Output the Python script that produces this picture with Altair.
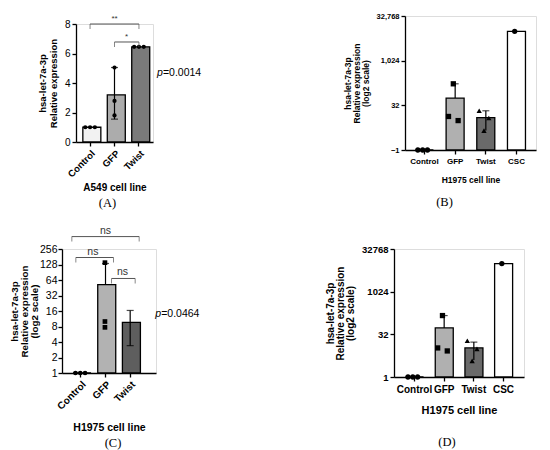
import altair as alt
import pandas as pd

FONT = "Liberation Sans"
SERIF = "Liberation Serif"
GRAY = "#555555"
SLOTS = ["L", "C", "R"]

# ---------------- Panel A (A549, linear) ----------------
A_CATS = ["Control", "GFP", "Twist"]
A_BARS = [1.0, 3.2, 6.45]
A_BASE = 0
A_FILL = ["#f2f2f2", "#acacac", "#7a7a7a"]
A_SHAPES = ["circle", "circle", "circle"]
A_PT_CAT = ["Control", "Control", "Control", "GFP", "GFP", "GFP", "Twist", "Twist", "Twist"]
A_PT_VAL = [1.0, 1.0, 1.0, 5.05, 2.78, 1.8, 6.45, 6.45, 6.45]
A_PT_SLOT = ["L", "C", "R", "C", "C", "C", "L", "C", "R"]
A_ERR_CAT = ["GFP"]
A_ERR_LO = [1.55]
A_ERR_HI = [5.05]
A_LOWCAP = ["GFP"]
A_TICKS = [0, 2, 4, 6, 8]
A_BR_FROM = ["Control", "GFP"]
A_BR_TO = ["Twist", "Twist"]
A_BR_LEVEL = [8.0, 6.78]
A_BR_LABEL = ["**", "*"]
A_P_LEVEL = 4.68
A_P_TEXT = "=0.0014"

# ---------------- Panel B (H1975, log2) ----------------
B_CATS = ["Control", "GFP", "Twist", "CSC"]
B_BARS = [1.0, 56.0, 12.4, 10000.0]
B_BASE = 1
B_FILL = ["#ffffff", "#b0b0b0", "#6a6a6a", "#ffffff"]
B_SHAPES = ["circle", "square", "triangle-up", "circle"]
B_PT_CAT = ["Control", "Control", "Control", "GFP", "GFP", "GFP", "Twist", "Twist", "Twist", "CSC"]
B_PT_VAL = [1.0, 1.0, 1.0, 170.0, 13.5, 9.8, 21.0, 12.0, 4.5, 10000.0]
B_PT_SLOT = ["L", "C", "R", "C", "L", "R", "L", "R", "C", "C"]
B_ERR_CAT = ["GFP", "Twist"]
B_ERR_LO = [56.0, 4.5]
B_ERR_HI = [170.0, 21.0]
B_TICKS = [1, 32, 1024, 32768]

# ---------------- Panel C (H1975, log2) ----------------
C_CATS = ["Control", "GFP", "Twist"]
C_BARS = [1.0, 52.0, 9.6]
C_BASE = 1
C_FILL = ["#ffffff", "#b2b2b2", "#5e5e5e"]
C_SHAPES = ["circle", "square", "triangle-up"]
C_PT_CAT = ["Control", "Control", "Control", "GFP", "GFP", "GFP"]
C_PT_VAL = [1.0, 1.0, 1.0, 139.0, 10.0, 7.7]
C_PT_SLOT = ["L", "C", "R", "C", "C", "C"]
C_ERR_CAT = ["GFP", "Twist"]
C_ERR_LO = [52.0, 3.4]
C_ERR_HI = [134.0, 16.4]
C_LOWCAP = ["Twist"]
C_TICKS = [1, 2, 4, 8, 16, 32, 64, 128, 256]
C_BR_FROM = ["Control", "Control", "GFP"]
C_BR_TO = ["Twist", "GFP", "Twist"]
C_BR_LEVEL = [446.0, 175.0, 68.5]
C_BR_LABEL = ["ns", "ns", "ns"]
C_P_LEVEL = 13.7
C_P_TEXT = "=0.0464"

# ---------------- Panel D (H1975, log2) ----------------
D_CATS = ["Control", "GFP", "Twist", "CSC"]
D_BARS = [1.0, 54.0, 10.6, 10000.0]
D_BASE = 1
D_FILL = ["#ffffff", "#b0b0b0", "#6a6a6a", "#ffffff"]
D_SHAPES = ["circle", "square", "triangle-up", "circle"]
D_PT_CAT = ["Control", "Control", "Control", "GFP", "GFP", "GFP", "Twist", "Twist", "Twist", "CSC"]
D_PT_VAL = [1.0, 1.0, 1.0, 147.0, 10.6, 8.3, 19.0, 9.8, 3.7, 10000.0]
D_PT_SLOT = ["L", "C", "R", "C", "L", "R", "L", "R", "C", "C"]
D_ERR_CAT = ["GFP", "Twist"]
D_ERR_LO = [54.0, 4.0]
D_ERR_HI = [147.0, 17.0]
D_TICKS = [1, 32, 1024, 32768]


def axis_common(**kw):
    base = dict(labelFont=FONT, titleFont=FONT, labelColor="black", titleColor="black",
                domainColor="black", domainWidth=1.3, tickColor="black", tickWidth=1.3,
                tickSize=4, grid=False, titleFontWeight="bold")
    base.update(kw)
    return alt.Axis(**base)


def panel(cats, bars, base, fills, shapes, pt_cat, pt_val, pt_slot, err_cat, err_lo, err_hi,
          lowcap, xscale, yscale, xaxis, yaxis, w, h, psize, title, title_dx, title_offset,
          brackets=None, ptext=None):
    def X(f="cat"):
        return alt.X(f"{f}:N", scale=xscale, axis=xaxis)

    def Y(f="val"):
        return alt.Y(f"{f}:Q", scale=yscale, axis=yaxis)

    bar_df = pd.DataFrame({"cat": cats, "val": bars, "base": [base] * len(cats)})
    pt_df = pd.DataFrame({"cat": pt_cat, "val": pt_val, "slot": pt_slot})
    err_df = pd.DataFrame({"cat": err_cat, "lo": err_lo, "hi": err_hi})
    low_df = err_df[err_df["cat"].isin(lowcap)]

    layers = [
        alt.Chart(bar_df).mark_bar(stroke="black", strokeWidth=1.3).encode(
            x=X(), y=Y(), y2="base:Q",
            fill=alt.Fill("cat:N", scale=alt.Scale(domain=cats, range=fills), legend=None)),
        alt.Chart(err_df).mark_rule(color="black", strokeWidth=1.2).encode(
            x=X(), y=Y("lo"), y2="hi"),
        alt.Chart(err_df).mark_tick(color="black", thickness=1.2, size=7).encode(
            x=X(), y=Y("hi")),
    ]
    if len(low_df):
        layers.append(alt.Chart(low_df).mark_tick(color="black", thickness=1.2, size=7).encode(
            x=X(), y=Y("lo")))
    layers.append(
        alt.Chart(pt_df).mark_point(filled=True, opacity=1, color="black", size=psize).encode(
            x=X(),
            xOffset=alt.XOffset("slot:N", scale=alt.Scale(domain=SLOTS, paddingOuter=0.5)),
            y=Y(),
            shape=alt.Shape("cat:N", scale=alt.Scale(domain=cats, range=shapes), legend=None)))

    if brackets:
        for (c1, c2, o1, o2, lev, lab, lcat, loff, fs) in brackets:
            bdf = pd.DataFrame({"cat": [c1], "cat2": [c2], "val": [lev]})
            layers.append(alt.Chart(bdf).mark_rule(color=GRAY, strokeWidth=1,
                                                   xOffset=o1, x2Offset=o2).encode(
                x=X(), x2="cat2:N", y=Y()))
            e1 = pd.DataFrame({"cat": [c1], "val": [lev]})
            e2 = pd.DataFrame({"cat": [c2], "val": [lev]})
            layers.append(alt.Chart(e1).mark_tick(orient="vertical", color=GRAY, thickness=1,
                                                  size=5, xOffset=o1, yOffset=2.5).encode(x=X(), y=Y()))
            layers.append(alt.Chart(e2).mark_tick(orient="vertical", color=GRAY, thickness=1,
                                                  size=5, xOffset=o2, yOffset=2.5).encode(x=X(), y=Y()))
            tdf = pd.DataFrame({"cat": [lcat], "val": [lev], "t": [lab]})
            layers.append(alt.Chart(tdf).mark_text(font=FONT, fontSize=fs, color="#333333",
                                                   baseline="bottom", dy=-1, xOffset=loff).encode(
                x=X(), y=Y(), text="t:N"))
    if ptext:
        pcat, plev, ptxt, pdx = ptext
        pdf = pd.DataFrame({"cat": [pcat], "val": [plev]})
        layers.append(alt.Chart(pdf).mark_text(text="p", font=FONT, fontStyle="italic", fontSize=10.5,
                                               align="left", baseline="middle", dx=pdx,
                                               color="black").encode(x=X(), y=Y()))
        layers.append(alt.Chart(pdf).mark_text(text=ptxt, font=FONT, fontSize=10.5,
                                               align="left", baseline="middle", dx=pdx + 6,
                                               color="black").encode(x=X(), y=Y()))

    return alt.layer(*layers).properties(
        width=w, height=h,
        title=alt.TitleParams(text=title, orient="bottom", font=SERIF, fontSize=12.5,
                              fontWeight="normal", color="black", dx=title_dx, offset=title_offset))


# ---------- Panel A ----------
chart_a = panel(
    A_CATS, A_BARS, A_BASE, A_FILL, A_SHAPES, A_PT_CAT, A_PT_VAL, A_PT_SLOT,
    A_ERR_CAT, A_ERR_LO, A_ERR_HI, A_LOWCAP,
    xscale=alt.Scale(domain=A_CATS, paddingInner=0.41, paddingOuter=0.28),
    yscale=alt.Scale(domain=[0, 8], nice=False),
    xaxis=axis_common(title="A549 cell line", titleFontSize=10, labelAngle=-45,
                      labelFontSize=9.5, labelFontWeight="bold", titlePadding=4, labelPadding=2),
    yaxis=axis_common(values=A_TICKS, title=["hsa-let-7a-3p", "Relative expression"],
                      titleFontSize=9.5, titleLineHeight=10.5, titlePadding=6,
                      labelFontSize=10, labelPadding=2),
    w=77, h=118, psize=18, title="(A)", title_dx=-7, title_offset=4,
    brackets=[(A_BR_FROM[0], A_BR_TO[0], 0, 0, A_BR_LEVEL[0], A_BR_LABEL[0], "GFP", 0, 8),
              (A_BR_FROM[1], A_BR_TO[1], 0, 0, A_BR_LEVEL[1], A_BR_LABEL[1], "GFP", 12, 8)],
    ptext=("Twist", A_P_LEVEL, A_P_TEXT, 18),
)

# ---------- Panel B ----------
chart_b = panel(
    B_CATS, B_BARS, B_BASE, B_FILL, B_SHAPES, B_PT_CAT, B_PT_VAL, B_PT_SLOT,
    B_ERR_CAT, B_ERR_LO, B_ERR_HI, [],
    xscale=alt.Scale(domain=B_CATS, paddingInner=0.41, paddingOuter=0.34),
    yscale=alt.Scale(type="log", base=2, domain=[1, 32768], nice=False),
    xaxis=axis_common(title="H1975 cell line", titleFontSize=8.5, labelAngle=0,
                      labelFontSize=8, labelFontWeight="bold", titlePadding=10, labelPadding=3),
    yaxis=axis_common(values=B_TICKS, title=["hsa-let-7a-3p", "Relative expression", "(log2 scale)"],
                      titleFontSize=8.5, titleLineHeight=9, titlePadding=6,
                      labelFontSize=7.5, labelFontWeight="bold", labelPadding=2,
                      labelExpr="datum.value == 1 ? '\u22121' : format(datum.value, ',')"),
    w=131, h=134, psize=28, title="(B)", title_dx=-26, title_offset=12,
)

# ---------- Panel C ----------
chart_c = panel(
    C_CATS, C_BARS, C_BASE, C_FILL, C_SHAPES, C_PT_CAT, C_PT_VAL, C_PT_SLOT,
    C_ERR_CAT, C_ERR_LO, C_ERR_HI, C_LOWCAP,
    xscale=alt.Scale(domain=C_CATS, paddingInner=0.37, paddingOuter=0.59, align=0.38),
    yscale=alt.Scale(type="log", base=2, domain=[1, 256], nice=False),
    xaxis=axis_common(title="H1975 cell line", titleFontSize=10.5, labelAngle=-45,
                      labelFontSize=10, labelFontWeight="bold", titlePadding=11, labelPadding=2),
    yaxis=axis_common(values=C_TICKS, title=["hsa-let-7a-3p", "Relative expression", "(log2 scale)"],
                      titleFontSize=9.8, titleLineHeight=10, titlePadding=0,
                      labelFontSize=10.5, labelPadding=1),
    w=94, h=124, psize=22, title="(C)", title_dx=4, title_offset=4,
    brackets=[(C_BR_FROM[0], C_BR_TO[0], -9, 9, C_BR_LEVEL[0], C_BR_LABEL[0], "GFP", 0, 10.5),
              (C_BR_FROM[1], C_BR_TO[1], -5, 8, C_BR_LEVEL[1], C_BR_LABEL[1], "Control", 12, 10.5),
              (C_BR_FROM[2], C_BR_TO[2], 6, 5, C_BR_LEVEL[2], C_BR_LABEL[2], "GFP", 17, 10.5)],
    ptext=("Twist", C_P_LEVEL, C_P_TEXT, 25),
)

# ---------- Panel D ----------
chart_d = panel(
    D_CATS, D_BARS, D_BASE, D_FILL, D_SHAPES, D_PT_CAT, D_PT_VAL, D_PT_SLOT,
    D_ERR_CAT, D_ERR_LO, D_ERR_HI, [],
    xscale=alt.Scale(domain=D_CATS, paddingInner=0.4, paddingOuter=0.39),
    yscale=alt.Scale(type="log", base=2, domain=[1, 32768], nice=False),
    xaxis=axis_common(title="H1975 cell line", titleFontSize=11, labelAngle=0,
                      labelFontSize=10, labelFontWeight="bold", titlePadding=10, labelPadding=3),
    yaxis=axis_common(values=D_TICKS, title=["hsa-let-7a-3p", "Relative expression", "(log2 scale)"],
                      titleFontSize=10, titleLineHeight=10, titlePadding=6,
                      labelFontSize=9.5, labelFontWeight="bold", labelPadding=2, format="d"),
    w=130, h=128, psize=28, title="(D)", title_dx=-12, title_offset=21,
)


def spacer(w, h):
    return alt.Chart(pd.DataFrame({"v": [0]})).mark_point(opacity=0).properties(width=w, height=h)


IND = dict(fill="independent", shape="independent")

# Nested concat groups count as zero-size in flush layout, so offsets are spacing-driven.
block_a = alt.hconcat(
    spacer(1, 1),
    alt.vconcat(spacer(1, 1), chart_a, spacing=7, bounds="flush").resolve_scale(**IND),
    spacing=13, bounds="flush").resolve_scale(**IND)
row1 = alt.hconcat(block_a, chart_b, spacing=343, bounds="flush").resolve_scale(**IND)
row2 = alt.hconcat(chart_c, chart_d, spacing=238, bounds="flush").resolve_scale(**IND)

chart = alt.vconcat(row1, row2, spacing=233, bounds="flush").resolve_scale(**IND).properties(
    padding={"left": 0, "top": 3, "right": 5, "bottom": 5}
).configure_view(stroke=None).configure(font=FONT)

chart.save("out.html", embed_options={"renderer": "svg", "actions": False})
